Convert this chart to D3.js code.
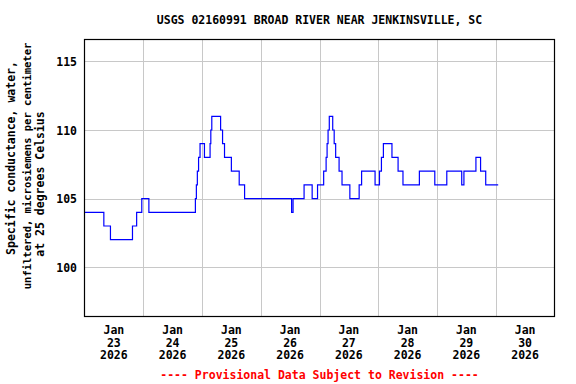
<!DOCTYPE html>
<html>
<head>
<meta charset="utf-8">
<script src="https://cdn.jsdelivr.net/npm/d3@7"></script>
<style>
  body { margin: 0; background: #fff; }
  svg { display: block; }
  text { font-family: "DejaVu Sans Mono", monospace; font-weight: bold; }
</style>
</head>
<body>
<div id="chart"></div>
<script>
// hours after Jan 23 2026 00:00, and the value that starts there (step data)
const stepHours = [
  0, 7.9, 10.6, 19.6, 21.3, 23.4, 26.3,
  45.3, 45.7, 46.1, 46.6, 47.2, 49.0, 51.3, 51.6, 52.0, 55.6, 56.4, 57.2, 60.0, 63.2, 65.4,
  84.6, 85.2, 89.7, 93.0, 95.2, 97.7, 98.7, 99.1, 99.5, 100.0, 101.4, 102.0, 102.6, 104.0, 105.2, 108.4,
  112.2, 113.2, 118.7, 120.5, 121.3, 122.1, 125.6, 128.1, 130.1, 136.8, 143.1, 148.0,
  154.1, 155.0, 159.9, 161.8, 163.9, 169.0
];
const stepValues = [
  104, 103, 102, 103, 104, 105, 104,
  105, 106, 107, 108, 109, 108, 109, 110, 111, 110, 109, 108, 107, 106, 105,
  104, 105, 106, 105, 106, 107, 108, 109, 110, 111, 110, 109, 108, 107, 106, 105,
  106, 107, 106, 107, 108, 109, 108, 107, 106, 107, 106, 107,
  106, 107, 108, 107, 106, 106
];

const yTicks = [100, 105, 110, 115];
const dayLabels = ['23', '24', '25', '26', '27', '28', '29', '30'];

const title = 'USGS 02160991 BROAD RIVER NEAR JENKINSVILLE, SC';
const yLabelLines = [
  'Specific conductance, water,',
  'unfiltered, microsiemens per centimeter',
  'at 25 degrees Celsius'
];
const footer = '---- Provisional Data Subject to Revision ----';

const width = 576;
const height = 384;
const plot = { left: 84.5, right: 554.5, top: 39.5, bottom: 316.5 };

const start = new Date(2026, 0, 23);
const hourMs = 3600 * 1000;
const data = stepHours.map((h, i) => ({
  date: new Date(start.getTime() + h * hourMs),
  value: stepValues[i]
}));

const svg = d3.select('#chart')
  .append('svg')
  .attr('width', width)
  .attr('height', height);

const xScale = d3.scaleTime()
  .domain([start, new Date(start.getTime() + 8 * 24 * hourMs)])
  .range([plot.left, plot.right]);

const yScale = d3.scaleLinear()
  .domain([96.4, 116.6])
  .range([plot.bottom, plot.top]);

// gridlines
const days = d3.timeDay.range(start, new Date(start.getTime() + 8 * 24 * hourMs + 1));
svg.append('g')
  .selectAll('line')
  .data(days.slice(1, -1))
  .join('line')
  .attr('x1', d => Math.round(xScale(d)) + 0.5)
  .attr('x2', d => Math.round(xScale(d)) + 0.5)
  .attr('y1', plot.top)
  .attr('y2', plot.bottom)
  .attr('stroke', '#c8c8c8');

svg.append('g')
  .selectAll('line')
  .data(yTicks)
  .join('line')
  .attr('x1', plot.left)
  .attr('x2', plot.right)
  .attr('y1', d => Math.round(yScale(d)) + 0.5)
  .attr('y2', d => Math.round(yScale(d)) + 0.5)
  .attr('stroke', '#c8c8c8');

// the data line
const line = d3.line()
  .x(d => xScale(d.date))
  .y(d => yScale(d.value))
  .curve(d3.curveStepAfter);

svg.append('path')
  .datum(data)
  .attr('d', line)
  .attr('fill', 'none')
  .attr('stroke', '#0000ff')
  .attr('stroke-width', 1.2);

// frame
svg.append('rect')
  .attr('x', plot.left)
  .attr('y', plot.top)
  .attr('width', plot.right - plot.left)
  .attr('height', plot.bottom - plot.top)
  .attr('fill', 'none')
  .attr('stroke', '#000')
  .attr('stroke-width', 1.2);

// y tick labels
svg.append('g')
  .selectAll('text')
  .data(yTicks)
  .join('text')
  .attr('x', 77)
  .attr('y', d => yScale(d) + 4.5)
  .attr('text-anchor', 'end')
  .attr('font-size', 11.5)
  .text(d => d);

// x tick labels, centered at noon of each day
const xLabels = svg.append('g')
  .selectAll('text')
  .data(days.slice(0, 8))
  .join('text')
  .attr('text-anchor', 'middle')
  .attr('font-size', 11.5);

xLabels.append('tspan')
  .attr('x', d => xScale(d3.timeHour.offset(d, 12)))
  .attr('y', 334)
  .text('Jan');
xLabels.append('tspan')
  .attr('x', d => xScale(d3.timeHour.offset(d, 12)))
  .attr('y', 346.7)
  .text((d, i) => dayLabels[i]);
xLabels.append('tspan')
  .attr('x', d => xScale(d3.timeHour.offset(d, 12)))
  .attr('y', 359.4)
  .text('2026');

// y axis title, one text per line (the middle one is set tighter)
const yLabelX = [15, 31, 44];
const yLabelY = [158, 166, 184];
const yLabelSize = [11.5, 10.5, 11.5];
svg.append('g')
  .selectAll('text')
  .data(yLabelLines)
  .join('text')
  .attr('transform', (d, i) => `translate(${yLabelX[i]}, ${yLabelY[i]}) rotate(-90)`)
  .attr('text-anchor', 'middle')
  .attr('font-size', (d, i) => yLabelSize[i])
  .text(d => d);

// title and footer
svg.append('text')
  .attr('x', (plot.left + plot.right) / 2)
  .attr('y', 24)
  .attr('text-anchor', 'middle')
  .attr('font-size', 11.5)
  .text(title);

svg.append('text')
  .attr('x', (plot.left + plot.right) / 2)
  .attr('y', 379)
  .attr('text-anchor', 'middle')
  .attr('font-size', 11.5)
  .attr('fill', '#ff0000')
  .text(footer);
</script>
</body>
</html>
